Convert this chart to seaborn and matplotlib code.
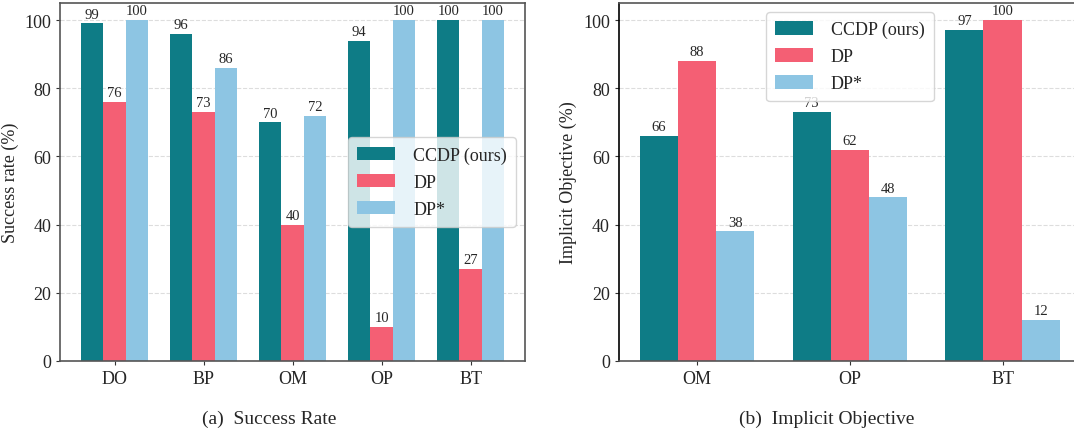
import matplotlib
matplotlib.use("Agg")
import matplotlib.pyplot as plt
import seaborn as sns
import pandas as pd

# data
methods = ["CCDP (ours)", "DP", "DP*"]
colors = ["#0e7c86", "#f45f74", "#8dc5e3"]

tasks_a = ["DO", "BP", "OM", "OP", "BT"]
ccdp_a = [99, 96, 70, 94, 100]
dp_a = [76, 73, 40, 10, 27]
dpstar_a = [100, 86, 72, 100, 100]

tasks_b = ["OM", "OP", "BT"]
ccdp_b = [66, 73, 97]
dp_b = [88, 62, 100]
dpstar_b = [38, 48, 12]

df_a = pd.DataFrame({"task": tasks_a * 3,
                     "method": [m for m in methods for _ in tasks_a],
                     "value": ccdp_a + dp_a + dpstar_a})
df_b = pd.DataFrame({"task": tasks_b * 3,
                     "method": [m for m in methods for _ in tasks_b],
                     "value": ccdp_b + dp_b + dpstar_b})

sns.set_style("white")
plt.rcParams["font.family"] = ["Liberation Serif", "DejaVu Serif"]
plt.rcParams["axes.edgecolor"] = "#555555"

fig = plt.figure(figsize=(10.74, 4.39), dpi=100)
ax1 = fig.add_axes([0.0559, 0.1754, 0.433, 0.8155])
ax2 = fig.add_axes([0.5763, 0.1754, 0.430, 0.8155])


def draw(ax, df, order, ylabel, legend_loc, xlim):
    sns.barplot(data=df, x="task", y="value", hue="method", order=order,
                hue_order=methods, palette=colors, width=0.75, gap=0,
                saturation=1, errorbar=None, ax=ax, zorder=2, linewidth=0)
    for c in ax.containers:
        ax.bar_label(c, fmt="%d", fontsize=10.5, padding=2)
    ax.set_xlim(*xlim)
    ax.set_ylim(0, 105)
    ax.set_yticks([0, 20, 40, 60, 80, 100])
    ax.yaxis.grid(True, linestyle="--", color="#dddddd", linewidth=0.8, zorder=0)
    ax.set_axisbelow(True)
    ax.set_xlabel("")
    ax.set_ylabel(ylabel, fontsize=13)
    ax.tick_params(axis="both", labelsize=13, direction="out", length=3,
                   left=True, bottom=True, color="#333333")
    for s in ax.spines.values():
        s.set_linewidth(1.2)
    ax.legend(loc=legend_loc, fontsize=13, framealpha=0.8,
              handlelength=2.1, handleheight=0.75, borderpad=0.5,
              labelspacing=0.55, handletextpad=1.0)


draw(ax1, df_a, tasks_a, "Success rate (%)", "center right", (-0.6125, 4.6125))
draw(ax2, df_b, tasks_b, "Implicit Objective (%)", "upper center", (-0.5125, 2.5125))
ax2.spines["left"].set_color("black")

fig.text(0.251, 0.035, "(a)  Success Rate", ha="center", fontsize=14)
fig.text(0.770, 0.035, "(b)  Implicit Objective", ha="center", fontsize=14)

fig.savefig("out.png", dpi=100)
